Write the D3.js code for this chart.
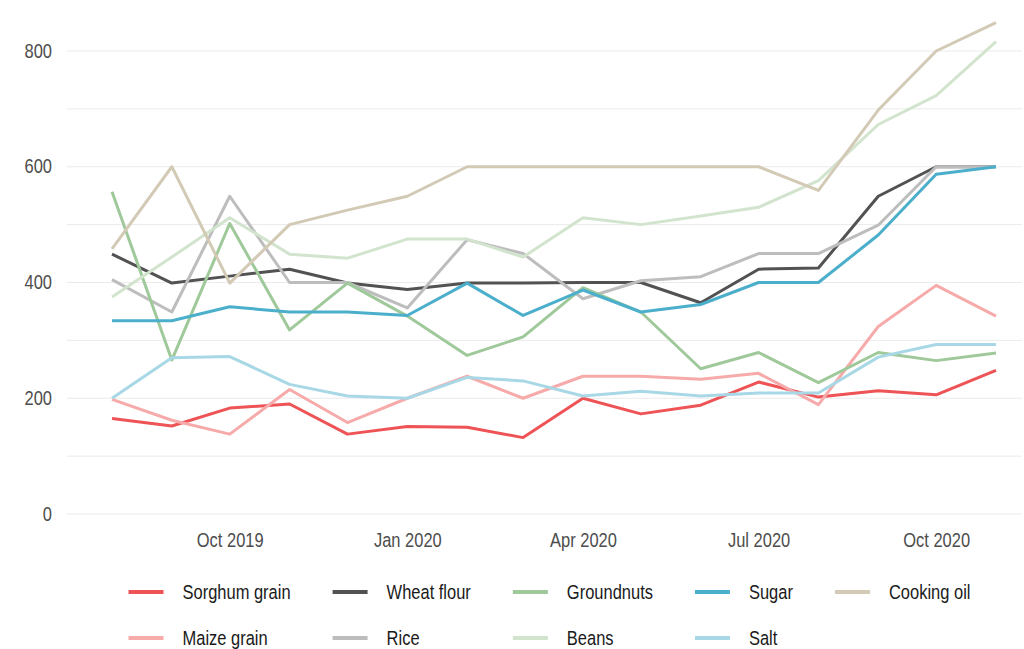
<!DOCTYPE html>
<html>
<head>
<meta charset="utf-8">
<script src="https://cdn.jsdelivr.net/npm/d3@7"></script>
<style>
  body { margin: 0; background: #fff; }
  text { font-family: "Liberation Sans", Arial, sans-serif; fill: #4d4d4d; }
</style>
</head>
<body>
<script>
// months, Aug 2019 .. Nov 2020
var months = ["2019-08","2019-09","2019-10","2019-11","2019-12","2020-01","2020-02","2020-03",
              "2020-04","2020-05","2020-06","2020-07","2020-08","2020-09","2020-10","2020-11"];

var sorghum   = [165,152,183,190,138,151,150,132,200,173,188,228,202,213,206,248];
var maize     = [198,162,138,215,158,200,238,200,238,238,233,243,189,324,395,342];
var wheat     = [449,399,411,423,399,388,399,399,400,400,365,423,425,549,600,600];
var rice      = [405,349,549,400,400,356,474,450,372,403,410,450,450,499,600,600];
var groundnut = [557,266,502,318,399,342,274,306,391,349,251,279,227,279,265,278];
var beans     = [375,444,512,449,442,475,475,444,512,500,515,530,576,673,723,816];
var sugar     = [334,334,358,349,349,343,399,343,387,349,362,400,400,482,587,600];
var salt      = [200,270,272,224,204,200,236,230,204,212,204,209,209,271,293,293];
var oil       = [458,600,399,500,525,549,600,600,600,600,600,600,559,698,800,849];

var yTicks = [0,200,400,600,800];
var yGrid = [0,100,200,300,400,500,600,700,800];
var xTicks = ["2019-10","2020-01","2020-04","2020-07","2020-10"];

// drawing order (column-major of the legend)
var series = [
  {name: "Sorghum grain", values: sorghum,   color: "#ee5356"},
  {name: "Maize grain",   values: maize,     color: "#f7aaaa"},
  {name: "Wheat flour",   values: wheat,     color: "#525252"},
  {name: "Rice",          values: rice,      color: "#bdbdbd"},
  {name: "Groundnuts",    values: groundnut, color: "#9fc99a"},
  {name: "Beans",         values: beans,     color: "#d2e4cd"},
  {name: "Sugar",         values: sugar,     color: "#4bafcb"},
  {name: "Salt",          values: salt,      color: "#a8d8e6"},
  {name: "Cooking oil",   values: oil,       color: "#d3cab6"}
];
var legendRows = [
  ["Sorghum grain","Wheat flour","Groundnuts","Sugar","Cooking oil"],
  ["Maize grain","Rice","Beans","Salt"]
];

var W = 1024, H = 649;
var plot = {left: 67, right: 1022, top: 51, bottom: 514};
var fs = "19.5px", squeeze = 0.845;   // narrow-looking text

var parse = d3.timeParse("%Y-%m");
var fmt = d3.timeFormat("%b %Y");

var x = d3.scaleTime()
    .domain([parse(months[0]), parse(months[months.length - 1])])
    .range([112, 996]);

var y = d3.scaleLinear()
    .domain([0, 800])
    .range([plot.bottom, plot.top]);

var svg = d3.select("body").append("svg")
    .attr("width", W)
    .attr("height", H);

// gridlines
svg.append("g")
  .selectAll("line")
  .data(yGrid)
  .enter().append("line")
    .attr("x1", plot.left)
    .attr("x2", plot.right)
    .attr("y1", function(d) { return y(d); })
    .attr("y2", function(d) { return y(d); })
    .attr("stroke", "#ebebeb")
    .attr("stroke-width", 1);

// y axis labels
var yAxis = svg.append("g")
    .attr("transform", "translate(" + (plot.left - 15) + ",0)")
    .call(d3.axisLeft(y).tickValues(yTicks).tickSize(0).tickPadding(0).tickFormat(d3.format("d")));
yAxis.select(".domain").remove();
yAxis.selectAll("text")
    .attr("fill", "#4d4d4d")
    .attr("transform", "scale(" + squeeze + ",1)")
    .style("font-size", fs)
    .style("font-family", "'Liberation Sans', Arial, sans-serif");

// x axis labels
var xAxis = svg.append("g")
    .attr("transform", "translate(0," + plot.bottom + ")")
    .call(d3.axisBottom(x).tickValues(xTicks.map(parse)).tickSize(0).tickPadding(19).tickFormat(fmt));
xAxis.select(".domain").remove();
xAxis.selectAll("text")
    .attr("fill", "#4d4d4d")
    .attr("transform", "scale(" + squeeze + ",1)")
    .style("font-size", fs)
    .style("font-family", "'Liberation Sans', Arial, sans-serif");

// lines
var line = d3.line()
    .x(function(d, i) { return x(parse(months[i])); })
    .y(function(d) { return y(d); });

svg.append("g")
  .selectAll("path")
  .data(series)
  .enter().append("path")
    .attr("fill", "none")
    .attr("stroke", function(d) { return d.color; })
    .attr("stroke-width", 3)
    .attr("stroke-linejoin", "round")
    .attr("d", function(d) { return line(d.values); });

// legend
var byName = {};
series.forEach(function(s) { byName[s.name] = s; });

var lg = svg.append("g");
var lineLen = 35, textGap = 19, itemGap = 42, rowY = [592, 638];

// measure text widths for each column
var measure = lg.append("text").style("font-size", fs);
function textW(t) { measure.text(t); return measure.node().getComputedTextLength() * squeeze; }
var nCols = legendRows[0].length, colW = [];
for (var c = 0; c < nCols; c++) {
  var m = 0;
  legendRows.forEach(function(r) { if (r[c]) m = Math.max(m, textW(r[c])); });
  colW.push(m);
}
measure.remove();

var colX = [], cx = 0;
colW.forEach(function(w, i) {
  colX.push(cx);
  cx += lineLen + textGap + w + (i < nCols - 1 ? itemGap : 0);
});
var startX = (plot.left + plot.right) / 2 + 5 - cx / 2;

legendRows.forEach(function(r, ri) {
  r.forEach(function(name, ci) {
    var s = byName[name];
    var gx = startX + colX[ci];
    lg.append("line")
      .attr("x1", gx).attr("x2", gx + lineLen)
      .attr("y1", rowY[ri]).attr("y2", rowY[ri])
      .attr("stroke", s.color)
      .attr("stroke-width", 4);
    lg.append("text")
      .attr("transform", "translate(" + (gx + lineLen + textGap) + "," + rowY[ri] + ") scale(" + squeeze + ",1)")
      .attr("dy", "0.35em")
      .style("fill", "#1a1a1a")
      .style("font-size", fs)
      .text(name);
  });
});
</script>
</body>
</html>
